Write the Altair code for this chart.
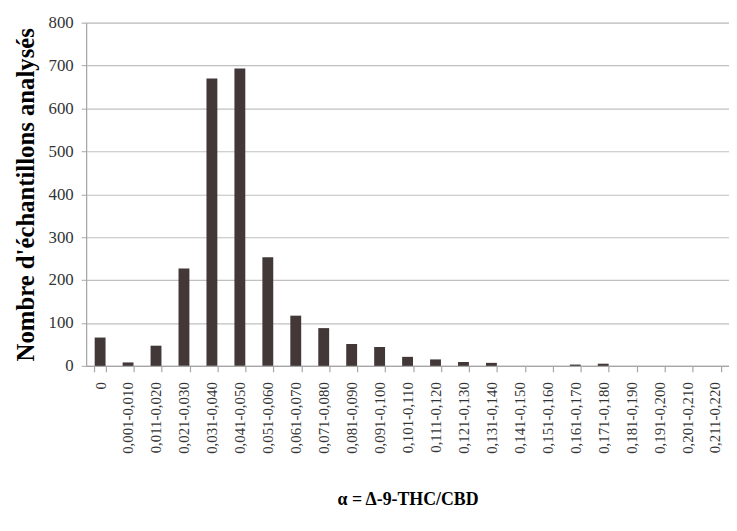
import altair as alt
import pandas as pd

categories = ["0"] + [
    "0,{:03d}-0,{:03d}".format(10 * i + 1, 10 * (i + 1)) for i in range(22)
]
counts = [66, 8, 47, 227, 670, 693, 253, 117, 88, 51, 44, 21, 15, 9, 7,
          0, 0, 3, 5, 0, 0, 0, 0]

df = pd.DataFrame({"cat": categories, "n": counts})

font = "Liberation Serif, Times New Roman, serif"

chart = alt.Chart(df).mark_bar(color="#433838", width=11).encode(
    x=alt.X("cat:N", sort=categories,
            scale=alt.Scale(paddingInner=0.6, paddingOuter=0.3),
            axis=alt.Axis(title="α = Δ-9-THC/CBD", labelAngle=-90,
                          labelFont=font, labelFontSize=15, labelColor="#333333",
                          labelPadding=10,
                          titleFont=font, titleFontSize=18, titleFontWeight="bold",
                          titleColor="#000000", titlePadding=38,
                          tickBand="extent", tickSize=6, tickColor="#a6a6a6",
                          tickWidth=1.2,
                          domainColor="#a6a6a6", domainWidth=1.2, grid=False)),
    y=alt.Y("n:Q", scale=alt.Scale(domain=[0, 800]),
            axis=alt.Axis(title="Nombre d'échantillons analysés", values=list(range(0, 801, 100)),
                          labelFont=font, labelFontSize=17, labelColor="#333333",
                          labelPadding=8,
                          titleFont=font, titleFontSize=25, titleFontWeight="bold",
                          titleColor="#000000", titlePadding=10,
                          tickSize=5, tickColor="#a6a6a6", domainColor="#a6a6a6",
                          domainWidth=1.2,
                          gridColor="#c0c0c0", gridWidth=1.2)),
).properties(
    width=650, height=347,
    autosize=alt.AutoSizeParams(type="none"),
    padding={"left": 79, "top": 12, "right": 0, "bottom": 150},
).configure_view(stroke=None).configure(background="white")

chart.save("out.html", embed_options={"renderer": "svg", "actions": False})
